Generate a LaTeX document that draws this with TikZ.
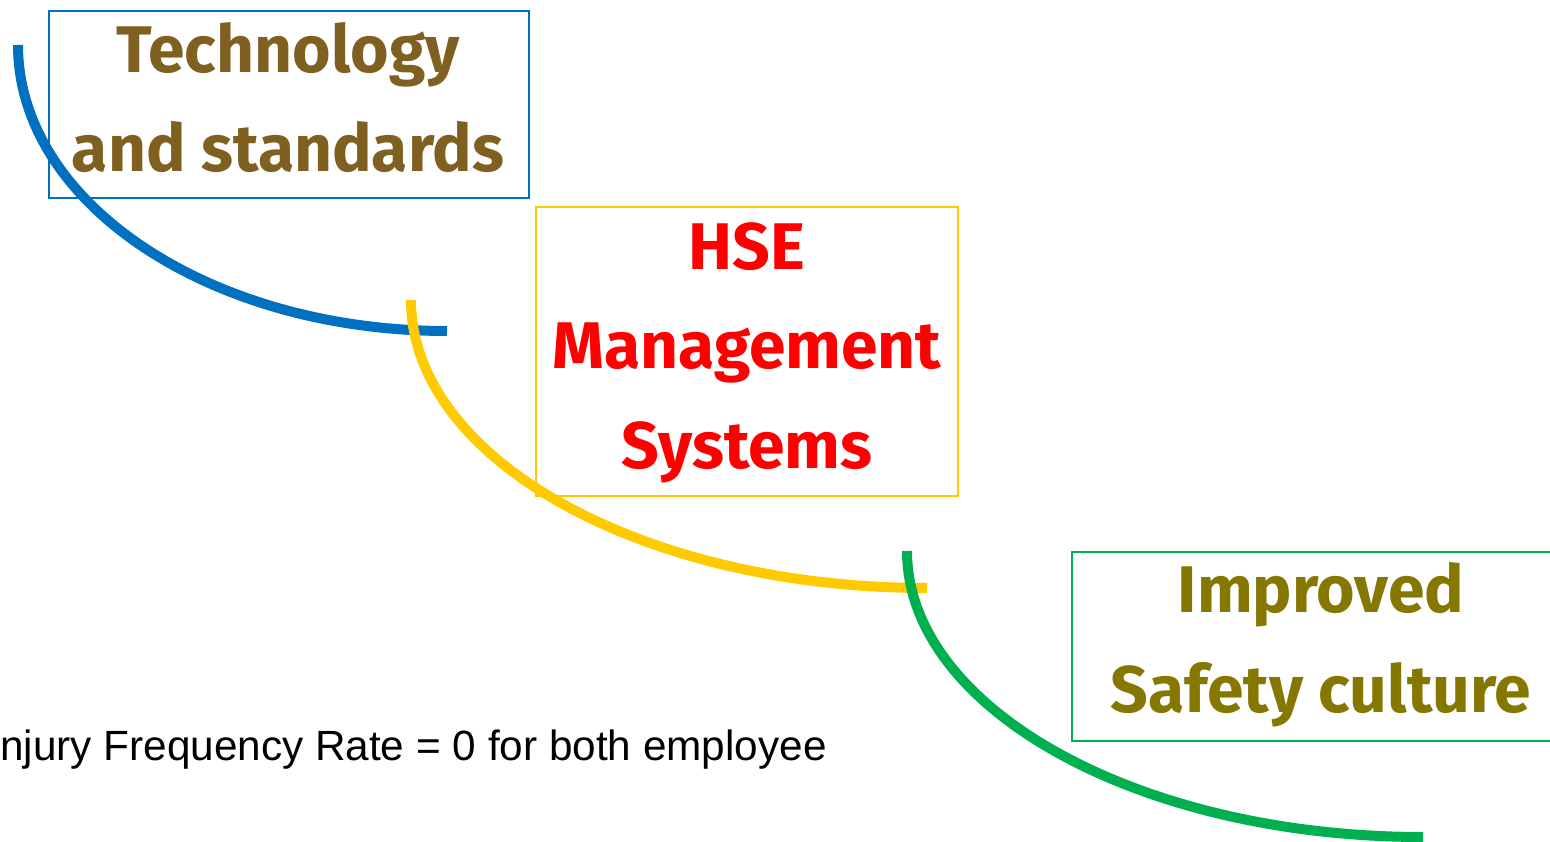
\documentclass[tikz,border=0pt]{standalone}
\usepackage{fontspec}
\setmainfont{Liberation Sans}
\newfontfamily\comic{Fira Sans}
\definecolor{cblue}{HTML}{0070C0}
\definecolor{cyellow}{HTML}{FFCA00}
\definecolor{cgreen}{HTML}{00B050}
\definecolor{tbrown}{HTML}{7F6020}
\definecolor{tred}{HTML}{FF0000}
\definecolor{tolive}{HTML}{857700}
\begin{document}
\begin{tikzpicture}[x=1pt,y=-1pt,
  boxstyle/.style={draw,line width=2pt,inner sep=0pt,anchor=north west},
  bigtext/.style={font=\comic\bfseries\fontsize{66}{66}\selectfont,anchor=base,inner sep=0pt},
  curve/.style={line width=10pt}]
\useasboundingbox (0,0) rectangle (1550,842);
\clip (0,0) rectangle (1550,842);
% boxes
\node[boxstyle,cblue,minimum width=480pt,minimum height=187pt] (box1) at (48,10) {};
\node[boxstyle,cyellow,minimum width=422pt,minimum height=289pt] (box2) at (535,206) {};
\node[boxstyle,cgreen,minimum width=490pt,minimum height=189pt] (box3) at (1071,551) {};
% curves
\draw[curve,cblue] (18,45) .. controls (18,203) and (210,331) .. (447,331);
\draw[curve,cyellow] (411,300) .. controls (411,459) and (642,588) .. (927,588);
\draw[curve,cgreen] (907,551) .. controls (907,708.4) and (1138,837) .. (1423,837);
% texts
\node[bigtext,tbrown] (t1a) at (288,73) {Technology};
\node[bigtext,tbrown] (t1b) at (288,172) {and standards};
\node[bigtext,tred] (t2a) at (747,270) {HSE};
\node[bigtext,tred] (t2b) at (747,368) {Management};
\node[bigtext,tred] (t2c) at (747,468) {Systems};
\node[bigtext,tolive] (t3a) at (1321,612) {Improved};
\node[bigtext,tolive] (t3b) at (1321,712) {Safety culture};
\node[font=\fontsize{42.3}{42.3}\selectfont,anchor=base west,inner sep=0pt] (note) at (0,760) {njury Frequency Rate = 0 for both employee};
\end{tikzpicture}
\end{document}
